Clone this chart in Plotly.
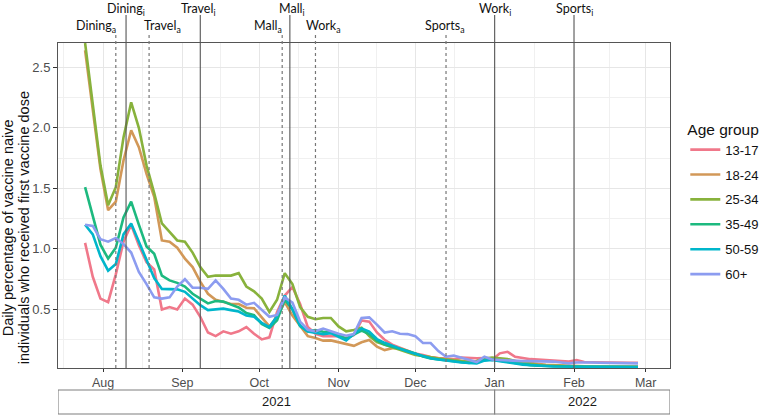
import plotly.graph_objects as go
import pandas as pd

# ---------------- data ----------------
start_date = "2021-07-25"
n_points = 73
step_days = 3
dates = pd.date_range(start_date, periods=n_points, freq=f"{step_days}D")

age_groups = ["13-17", "18-24", "25-34", "35-49", "50-59", "60+"]
colors = ["#F0788A", "#D29858", "#88B23C", "#1DB97F", "#00B6CB", "#8C9CF0"]

v_13_17 = [1.05, 0.77, 0.59, 0.56, 0.79, 1.06, 1.20, 1.03, 0.89, 0.83,
           0.50, 0.52, 0.50, 0.59, 0.54, 0.44, 0.31, 0.28, 0.32, 0.30,
           0.32, 0.355, 0.30, 0.253, 0.27, 0.48, 0.615, 0.685, 0.545, 0.355,
           0.30, 0.28, 0.28, 0.28, 0.26, 0.29, 0.41, 0.40, 0.31, 0.25,
           0.21, 0.185, 0.16, 0.136, 0.124, 0.107, 0.099, 0.095, 0.09, 0.103,
           0.097, 0.097, 0.099, 0.083, 0.138, 0.151, 0.11, 0.099, 0.09, 0.087,
           0.083, 0.078, 0.073, 0.07, 0.083, 0.066, 0.064, 0.062, 0.061, 0.06,
           0.06, 0.06, 0.06]
v_18_24 = [2.64, 2.15, 1.66, 1.32, 1.39, 1.73, 1.98, 1.84, 1.62, 1.43,
           1.07, 1.06, 1.01, 0.92, 0.85, 0.73, 0.63, 0.58, 0.565, 0.545,
           0.545, 0.515, 0.51, 0.43, 0.36, 0.44, 0.56, 0.45, 0.36, 0.28,
           0.264, 0.243, 0.245, 0.23, 0.215, 0.20, 0.23, 0.248, 0.194, 0.165,
           0.18, 0.18, 0.157, 0.13, 0.116, 0.103, 0.095, 0.088, 0.083, 0.078,
           0.07, 0.074, 0.091, 0.091, 0.087, 0.083, 0.074, 0.066, 0.058, 0.05,
           0.044, 0.041, 0.037, 0.033, 0.032, 0.031, 0.03, 0.03, 0.029, 0.029,
           0.028, 0.028, 0.028]
v_25_34 = [2.70, 2.19, 1.69, 1.36, 1.51, 1.92, 2.21, 2.00, 1.69, 1.46,
           1.21, 1.14, 1.07, 1.06, 0.97, 0.85, 0.77, 0.78, 0.78, 0.78,
           0.80, 0.69, 0.65, 0.59, 0.48, 0.58, 0.80, 0.71, 0.52, 0.44,
           0.42, 0.43, 0.43, 0.36, 0.32, 0.33, 0.35, 0.28, 0.23, 0.21,
           0.19, 0.17, 0.15, 0.124, 0.116, 0.103, 0.095, 0.087, 0.078, 0.07,
           0.066, 0.074, 0.095, 0.103, 0.099, 0.091, 0.074, 0.062, 0.05, 0.041,
           0.035, 0.033, 0.03, 0.029, 0.027, 0.027, 0.027, 0.026, 0.026, 0.026,
           0.025, 0.025, 0.025]
v_35_49 = [1.51, 1.26, 1.035, 0.92, 1.01, 1.26, 1.39, 1.20, 1.02, 0.96,
           0.78, 0.74, 0.72, 0.69, 0.63, 0.59, 0.55, 0.57, 0.565, 0.54,
           0.517, 0.47, 0.454, 0.38, 0.347, 0.41, 0.58, 0.50, 0.363, 0.32,
           0.33, 0.316, 0.31, 0.29, 0.26, 0.293, 0.326, 0.297, 0.243, 0.21,
           0.194, 0.177, 0.157, 0.136, 0.111, 0.095, 0.087, 0.083, 0.074, 0.066,
           0.058, 0.066, 0.083, 0.087, 0.078, 0.066, 0.055, 0.047, 0.041, 0.035,
           0.033, 0.03, 0.029, 0.028, 0.027, 0.027, 0.027, 0.026, 0.026, 0.026,
           0.025, 0.025, 0.025]
v_50_59 = [1.20, 1.12, 0.94, 0.82, 0.875, 1.12, 1.21, 1.06, 0.90, 0.76,
           0.67, 0.67, 0.666, 0.646, 0.594, 0.536, 0.495, 0.50, 0.507, 0.495,
           0.483, 0.45, 0.44, 0.39, 0.355, 0.445, 0.615, 0.503, 0.367, 0.318,
           0.305, 0.297, 0.305, 0.276, 0.245, 0.297, 0.344, 0.318, 0.256, 0.225,
           0.198, 0.177, 0.153, 0.136, 0.116, 0.097, 0.087, 0.078, 0.07, 0.062,
           0.058, 0.055, 0.078, 0.083, 0.074, 0.062, 0.054, 0.045, 0.039, 0.035,
           0.033, 0.03, 0.029, 0.028, 0.027, 0.027, 0.026, 0.026, 0.026, 0.026,
           0.025, 0.025, 0.025]
v_60_plus = [1.20, 1.19, 1.08, 1.06, 1.09, 1.04, 0.97, 0.81, 0.71, 0.60,
             0.59, 0.60, 0.69, 0.75, 0.68, 0.68, 0.67, 0.74, 0.67, 0.59,
             0.58, 0.54, 0.555, 0.50, 0.44, 0.455, 0.60, 0.557, 0.40, 0.333,
             0.32, 0.342, 0.32, 0.30, 0.283, 0.297, 0.43, 0.435, 0.375, 0.31,
             0.32, 0.30, 0.297, 0.28, 0.223, 0.223, 0.157, 0.11, 0.12, 0.10,
             0.083, 0.066, 0.11, 0.087, 0.083, 0.078, 0.074, 0.074, 0.074, 0.074,
             0.074, 0.07, 0.062, 0.055, 0.062, 0.064, 0.062, 0.06, 0.06, 0.058,
             0.058, 0.056, 0.055]
series = [v_13_17, v_18_24, v_25_34, v_35_49, v_50_59, v_60_plus]

event_names = ["Dining", "Dining", "Travel", "Travel", "Mall", "Mall",
               "Work", "Sports", "Work", "Sports"]
event_kind = ["a", "i", "a", "i", "a", "i", "a", "a", "i", "i"]
event_dates = ["2021-08-06", "2021-08-10", "2021-08-19", "2021-09-08",
               "2021-10-10", "2021-10-13", "2021-10-23", "2021-12-13",
               "2022-01-01", "2022-02-01"]
label_shift = [-20, 0, 13, -2, -14, 2, 8, -1, 0, 0]

month_ticks = ["2021-08-01", "2021-09-01", "2021-10-01", "2021-11-01",
               "2021-12-01", "2022-01-01", "2022-02-01", "2022-03-01"]
month_labels = ["Aug", "Sep", "Oct", "Nov", "Dec", "Jan", "Feb", "Mar"]
minor_ticks = ["2021-07-16 12:00", "2021-08-16 12:00", "2021-09-16", "2021-10-16 12:00",
               "2021-11-16", "2021-12-16 12:00", "2022-01-16 12:00", "2022-02-15"]

x_range = ["2021-07-14 10:00", "2022-03-10 12:00"]
y_range = [0.017, 2.70]
years = ["2021", "2022"]
year_bounds = [x_range[0], "2022-01-01", x_range[1]]

# ---------------- figure ----------------
fig = go.Figure()
for name, vals, col in zip(age_groups, series, colors):
    fig.add_trace(go.Scatter(x=dates, y=vals, mode="lines", name=name,
                             legendgroup=name,
                             line=dict(color=col, width=2.6)))

shapes = []
annotations = []
for nm, kd, d, sh in zip(event_names, event_kind, event_dates, label_shift):
    solid = kd == "i"
    shapes.append(dict(type="line", xref="x", yref="paper", x0=d, x1=d,
                       y0=0, y1=1.086 if solid else 1.031,
                       line=dict(color="#555555" if solid else "#777777",
                                 width=1.1 if solid else 1.2,
                                 dash="solid" if solid else "dot"),
                       layer="above"))
    annotations.append(dict(xref="x", yref="paper", x=d, xshift=sh,
                            y=1.102 if solid else 1.052, yanchor="middle",
                            xanchor="center", showarrow=False,
                            text=f"{nm}<sub>{kd}</sub>",
                            font=dict(family="Lato", size=12.5, color="#111111")))

# year strips
for yr, x0, x1 in zip(years, year_bounds[:-1], year_bounds[1:]):
    shapes.append(dict(type="rect", xref="x", yref="paper", x0=x0, x1=x1,
                       y0=-0.1415, y1=-0.0677,
                       line=dict(color="#7F7F7F", width=1.1), fillcolor="white"))
    annotations.append(dict(xref="x", yref="paper",
                            x=pd.Timestamp(x0) + (pd.Timestamp(x1) - pd.Timestamp(x0)) / 2,
                            y=-0.1046, yanchor="middle", xanchor="center",
                            showarrow=False, text=yr,
                            font=dict(family="Liberation Sans", size=13, color="#1A1A1A")))

# y axis title (two lines)
ytitle_lines = ["Daily percentage of vaccine naive",
                "individuals who received first vaccine dose"]
for line_txt, xs in zip(ytitle_lines, [-50, -34]):
    annotations.append(dict(xref="paper", yref="paper", x=0, xshift=xs, y=0.43,
                            xanchor="center", yanchor="middle", textangle=-90,
                            showarrow=False, text=line_txt,
                            font=dict(family="Liberation Sans", size=14.5, color="#111111")))

fig.update_layout(
    width=762, height=417,
    margin=dict(l=58, r=92, t=43, b=49, autoexpand=False),
    paper_bgcolor="white", plot_bgcolor="white",
    font=dict(family="Liberation Sans", size=13, color="#4D4D4D"),
    shapes=shapes, annotations=annotations,
    showlegend=True,
    legend=dict(x=1.025, xanchor="left", y=0.78, yanchor="top",
                title=dict(text="Age group", font=dict(size=15.5, color="#111111")),
                font=dict(size=13, color="#111111"),
                tracegroupgap=5, itemwidth=30, bgcolor="rgba(0,0,0,0)"),
    xaxis=dict(range=x_range, type="date", tickmode="array",
               tickvals=month_ticks, ticktext=month_labels,
               showgrid=True, gridcolor="#E6E6E6", gridwidth=1,
               minor=dict(tickmode="array", tickvals=minor_ticks, showgrid=True,
                          gridcolor="#F0F0F0", gridwidth=0.6),
               ticks="outside", ticklen=3, tickcolor="#333333",
               showline=True, mirror=True, linecolor="#555555", linewidth=1,
               zeroline=False, tickfont=dict(size=12.5, color="#4D4D4D")),
    yaxis=dict(range=y_range, tickmode="array",
               tickvals=[0.5, 1.0, 1.5, 2.0, 2.5],
               ticktext=["0.5", "1.0", "1.5", "2.0", "2.5"],
               showgrid=True, gridcolor="#E6E6E6", gridwidth=1,
               minor=dict(tickmode="array", tickvals=[0.25, 0.75, 1.25, 1.75, 2.25],
                          showgrid=True, gridcolor="#F0F0F0", gridwidth=0.6),
               ticks="outside", ticklen=4, tickcolor="#333333",
               showline=True, mirror=True, linecolor="#555555", linewidth=1,
               zeroline=False, tickfont=dict(size=13, color="#4D4D4D")),
)

fig.write_html("out.html")
